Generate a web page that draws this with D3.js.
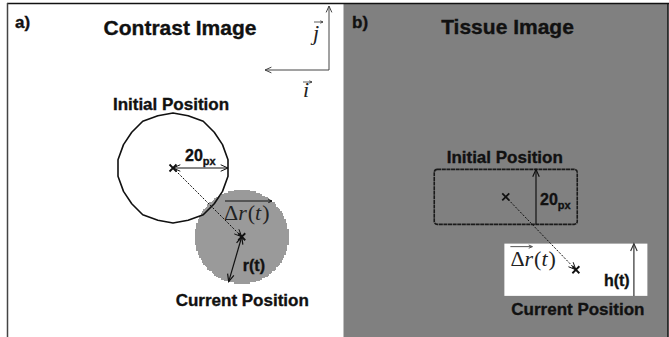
<!DOCTYPE html>
<html>
<head>
<meta charset="utf-8">
<script src="https://cdn.jsdelivr.net/npm/d3@7"></script>
<style>
  body { margin: 0; background: #fff; }
  svg { display: block; }
  .lbl { font-family: "Liberation Sans", Arial, sans-serif; font-weight: bold; fill: #111;
         stroke: #111; stroke-width: 0.35px; }
  .math { font-family: "Liberation Serif", "Times New Roman", serif; fill: #222; }
</style>
</head>
<body>
<svg id="fig" width="669" height="337"></svg>
<script>
// ---- figure content (lengths in image pixels) ----
const panelTags   = ["a)", "b)"];
const panelTitles = ["Contrast Image", "Tissue Image"];
const posLabels   = ["Initial Position", "Current Position"];

// a) contrast image: initial outline and current disc
const circleCenter  = [[60, 60], [85, 85]];   // initial, current
const circleRadius  = [20, 17];               // 20 px initial, r(t) current
const rEndPoint     = [80.25, 101.3];         // end of the r(t) arrow

// b) tissue image: initial and current strips
const rectInitial   = { x: 33,   y: 60.5, w: 52, h: 20 };
const rectCurrent   = { x: 58.5, y: 87.5, w: 52, h: 19 };
const rectCenter    = [[59, 70.5], [84.5, 97]];
const heightArrowX  = [70, 105.6];            // 20 px arrow, h(t) arrow

const U = 2.75;                               // screen px per image px
const svg = d3.select("#fig");

// per-panel linear scales
const xa = d3.scaleLinear().domain([0, 1]).range([8, 8 + U]);
const ya = d3.scaleLinear().domain([0, 1]).range([3, 3 + U]);
const xb = d3.scaleLinear().domain([0, 1]).range([343.5, 343.5 + U]);
const yb = ya;

// ---- helpers ----
function head(g, x1, y1, x2, y2, size, color, width) {
  const a = Math.atan2(y2 - y1, x2 - x1);
  const s = 0.42;
  const p = d3.path();
  p.moveTo(x2 - size * Math.cos(a - s), y2 - size * Math.sin(a - s));
  p.lineTo(x2, y2);
  p.lineTo(x2 - size * Math.cos(a + s), y2 - size * Math.sin(a + s));
  g.append("path").attr("d", p.toString()).attr("fill", "none")
    .attr("stroke", color).attr("stroke-width", width);
}
function arrow(g, x1, y1, x2, y2, o = {}) {
  const color = o.color || "#111", width = o.width || 1, size = o.size || 7;
  g.append("line").attr("x1", x1).attr("y1", y1).attr("x2", x2).attr("y2", y2)
    .attr("stroke", color).attr("stroke-width", width)
    .attr("stroke-dasharray", o.dash || null);
  if (o.end !== false) head(g, x1, y1, x2, y2, size, color, width);
  if (o.start) head(g, x2, y2, x1, y1, size, color, width);
}
function cross(g, x, y, s = 3.5) {
  g.append("path")
    .attr("d", `M${x - s},${y - s}L${x + s},${y + s}M${x - s},${y + s}L${x + s},${y - s}`)
    .attr("stroke", "#111").attr("stroke-width", 1.8);
}
function deltaR(g, x, y) {
  const t = g.append("text").attr("class", "math").attr("x", x).attr("y", y).attr("font-size", 22);
  t.append("tspan").text("Δ");
  t.append("tspan").attr("font-style", "italic").text("r");
  t.append("tspan").attr("dx", 1).text("(");
  t.append("tspan").attr("font-style", "italic").text("t");
  t.append("tspan").attr("dx", 1).text(")");
}
function sizeLabel(g, x, y, main, sub) {
  const t = g.append("text").attr("class", "lbl").attr("x", x).attr("y", y).attr("font-size", 16);
  t.append("tspan").text(main);
  t.append("tspan").attr("font-size", 11).attr("dy", 4).text(sub);
}
// circle boundary snapped to half-pixel positions, as traced from a raster
function tracedRing(r, n) {
  const pts = [];
  for (let k = 0; k < n; k++) {
    const t = (k + 0.5) * 2 * Math.PI / n;
    pts.push([Math.round(2 * r * Math.cos(t)) / 2, Math.round(2 * r * Math.sin(t)) / 2]);
  }
  return pts;
}

// ---- backgrounds and frame ----
svg.append("rect").attr("width", 669).attr("height", 337).attr("fill", "#fff");
svg.append("rect").attr("x", 343.5).attr("y", 3).attr("width", 324.5).attr("height", 334)
  .attr("fill", "#808080");
svg.append("line").attr("x1", 7).attr("x2", 669).attr("y1", 3.5).attr("y2", 3.5)
  .attr("stroke", "#111").attr("stroke-width", 1.5);
svg.append("line").attr("x1", 7.5).attr("x2", 7.5).attr("y1", 3).attr("y2", 337)
  .attr("stroke", "#444").attr("stroke-width", 1.5);
svg.append("line").attr("x1", 668).attr("x2", 668).attr("y1", 3).attr("y2", 337)
  .attr("stroke", "#111").attr("stroke-width", 1.5);

// ================= panel a =================
const ga = svg.append("g");

// current position: filled raster disc
const [ccx, ccy] = circleCenter[1], rc = circleRadius[1];
const cell = 0.5;
for (let j = -rc; j < rc; j += cell) {
  const yc = j + cell / 2;
  const half = Math.sqrt(rc * rc - yc * yc);
  const e = Math.round(half / cell) * cell;
  if (e <= 0) continue;
  ga.append("rect")
    .attr("x", xa(ccx - e)).attr("y", ya(ccy + j))
    .attr("width", xa(ccx + e) - xa(ccx - e)).attr("height", cell * U + 0.3)
    .attr("fill", "#9a9a9a").attr("shape-rendering", "crispEdges");
}

// initial position: traced circle outline
const [icx, icy] = circleCenter[0], ri = circleRadius[0];
ga.append("path")
  .attr("d", d3.line().x(d => xa(icx + d[0])).y(d => ya(icy + d[1]))
    .curve(d3.curveLinearClosed)(tracedRing(ri, 22)))
  .attr("fill", "none").attr("stroke", "#111").attr("stroke-width", 1.6)
  .attr("stroke-linejoin", "round");

// displacement Δr(t)
arrow(ga, xa(icx), ya(icy), xa(ccx), ya(ccy), { dash: "2,1.5", size: 8 });
// 20 px radius
arrow(ga, xa(icx), ya(icy), xa(icx + ri), ya(icy), { start: true, size: 8 });
// r(t)
arrow(ga, xa(ccx), ya(ccy), xa(rEndPoint[0]), ya(rEndPoint[1]), { start: true, size: 8, width: 1.2 });
cross(ga, xa(icx), ya(icy));
cross(ga, xa(ccx), ya(ccy));

sizeLabel(ga, xa(icx) + 12, ya(icy) - 7, "20", "px");
ga.append("text").attr("class", "lbl").attr("x", xa(ccx) + 1).attr("y", ya(ccy) + 34)
  .attr("font-size", 16).text("r(t)");
deltaR(ga, xa(icx) + 51, ya(icy) + 52);
arrow(ga, xa(icx) + 52, ya(icy) + 33, xa(icx) + 99, ya(icy) + 33, { size: 4, width: 1 });

ga.append("text").attr("class", "lbl").attr("x", xa(icx) - 2).attr("y", ya(icy - ri) - 3.5)
  .attr("text-anchor", "middle").attr("font-size", 17).text(posLabels[0]);
ga.append("text").attr("class", "lbl").attr("x", xa(ccx) + 0.5).attr("y", ya(ccy + rc) + 22)
  .attr("text-anchor", "middle").attr("font-size", 17).text(posLabels[1]);

ga.append("text").attr("class", "lbl").attr("x", 15).attr("y", 28).attr("font-size", 17).text(panelTags[0]);
ga.append("text").attr("class", "lbl").attr("x", 180).attr("y", 35).attr("text-anchor", "middle")
  .attr("font-size", 21).text(panelTitles[0]);

// image axes i, j
const ox = 329, oy = 70;
arrow(ga, ox, oy, ox, 6, { color: "#444", size: 7 });
arrow(ga, ox, oy, 265, oy, { color: "#444", size: 7 });
ga.append("text").attr("class", "math").attr("x", 313).attr("y", 40).attr("font-size", 22)
  .attr("font-style", "italic").text("j");
arrow(ga, 314, 22, 323, 22, { size: 3, width: 0.8, color: "#333" });
ga.append("text").attr("class", "math").attr("x", 303).attr("y", 97).attr("font-size", 22)
  .attr("font-style", "italic").text("i");
arrow(ga, 303, 82, 312, 82, { size: 3, width: 0.8, color: "#333" });

// ================= panel b =================
const gb = svg.append("g");
gb.append("rect")
  .attr("x", xb(rectInitial.x)).attr("y", yb(rectInitial.y))
  .attr("width", rectInitial.w * U).attr("height", rectInitial.h * U)
  .attr("rx", 3).attr("fill", "none").attr("stroke", "#1a1a1a")
  .attr("stroke-width", 1.6).attr("stroke-dasharray", "4,0.6");
gb.append("rect")
  .attr("x", xb(rectCurrent.x)).attr("y", yb(rectCurrent.y))
  .attr("width", rectCurrent.w * U).attr("height", rectCurrent.h * U)
  .attr("fill", "#fff");

arrow(gb, xb(rectCenter[0][0]), yb(rectCenter[0][1]), xb(rectCenter[1][0]), yb(rectCenter[1][1]),
  { dash: "2,1.5", size: 8 });
arrow(gb, xb(heightArrowX[0]), yb(rectInitial.y + rectInitial.h), xb(heightArrowX[0]), yb(rectInitial.y),
  { size: 8, width: 1.2 });
arrow(gb, xb(heightArrowX[1]), yb(rectCurrent.y + rectCurrent.h), xb(heightArrowX[1]), yb(rectCurrent.y),
  { size: 8, width: 1.2, color: "#333" });
cross(gb, xb(rectCenter[0][0]), yb(rectCenter[0][1]));
cross(gb, xb(rectCenter[1][0]), yb(rectCenter[1][1]));

sizeLabel(gb, xb(heightArrowX[0]) + 4, yb(rectCenter[0][1]) + 8, "20", "px");
gb.append("text").attr("class", "lbl").attr("x", xb(heightArrowX[1]) - 30).attr("y", yb(rectCurrent.y + rectCurrent.h) - 10)
  .attr("font-size", 16).text("h(t)");
deltaR(gb, xb(rectCurrent.x) + 6, yb(rectCurrent.y) + 22);
arrow(gb, xb(rectCurrent.x) + 6, yb(rectCurrent.y) + 3, xb(rectCurrent.x) + 28, yb(rectCurrent.y) + 3,
  { size: 4, width: 1, color: "#555" });

gb.append("text").attr("class", "lbl").attr("x", xb(rectCenter[0][0]) - 1).attr("y", yb(rectInitial.y) - 6)
  .attr("text-anchor", "middle").attr("font-size", 17).text(posLabels[0]);
gb.append("text").attr("class", "lbl").attr("x", xb(rectCenter[1][0]) + 2).attr("y", yb(rectCurrent.y + rectCurrent.h) + 19)
  .attr("text-anchor", "middle").attr("font-size", 17).text(posLabels[1]);

gb.append("text").attr("class", "lbl").attr("x", 352).attr("y", 28).attr("font-size", 17).text(panelTags[1]);
gb.append("text").attr("class", "lbl").attr("x", 507.5).attr("y", 34).attr("text-anchor", "middle")
  .attr("font-size", 21).text(panelTitles[1]);
</script>
</body>
</html>
